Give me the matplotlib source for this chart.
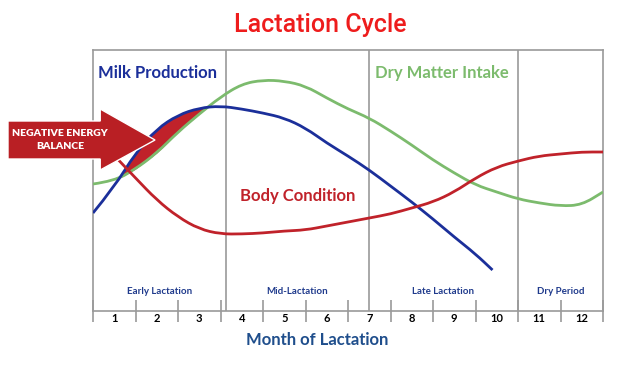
import matplotlib.pyplot as plt
from matplotlib.patches import Polygon, PathPatch
from matplotlib.path import Path
import numpy as np

# curve values (arbitrary units) read at half-month steps
milk_months = [0, 0.5, 1, 1.5, 2, 2.5, 3, 3.5, 4, 4.5, 5, 5.5, 6, 6.5,
               7, 7.5, 8, 8.5, 9, 9.4]
milk = [98, 124, 158, 182, 196, 203, 205, 202, 198, 193, 183, 168, 155, 141,
        125, 109, 92, 74, 57, 41]

dmi_months = [0, 0.5, 1, 1.5, 2, 2.5, 3, 3.5, 4, 4.5, 5, 5.5, 6, 6.5,
              7, 7.5, 8, 8.5, 9, 9.5, 10, 10.5, 11, 11.5, 12]
dmi = [127, 130, 142, 158, 179, 197, 214, 227, 231, 230, 225, 213, 202, 193,
       180, 166, 151, 138, 126, 119, 112, 108, 105, 106, 119]

body_months = [0.6, 1, 1.5, 2, 2.5, 3, 3.5, 4, 4.5, 5, 5.5, 6, 6.5,
               7, 7.5, 8, 8.5, 9, 9.5, 10, 10.5, 11, 11.5, 12]
body = [151, 133, 111, 94, 82, 77, 77, 78, 80, 81, 85, 89, 93,
        97, 103, 109, 119, 133, 144, 150, 155, 157, 159, 159]

month_labels = [str(m) for m in range(1, 13)]
stage_names = ["Early Lactation", "Mid-Lactation", "Late Lactation", "Dry Period"]
stage_edges = [0, 3.13, 6.49, 10, 12]

BLUE = "#1b2f9a"
GREEN = "#7cbb6d"
RED = "#c0222a"
GRAY = "#9a9a9a"
NAVY = "#1f3a8c"


def smooth_line(ax, xs, ys, color, lw=2.0, z=3):
    # quadratic bezier through the midpoints, read points as control points
    pts = list(zip(xs, ys))
    verts = [pts[0]]
    codes = [Path.MOVETO]
    for i in range(1, len(pts) - 1):
        mid = ((pts[i][0] + pts[i + 1][0]) / 2, (pts[i][1] + pts[i + 1][1]) / 2)
        verts += [pts[i], mid]
        codes += [Path.CURVE3, Path.CURVE3]
    verts.append(pts[-1])
    codes.append(Path.LINETO)
    patch = PathPatch(Path(verts, codes), facecolor="none", edgecolor=color,
                      lw=lw, zorder=z, capstyle="butt")
    ax.add_patch(patch)


fig = plt.figure(figsize=(6.4, 3.88), dpi=100)
fig.patch.set_facecolor("white")
ax = fig.add_axes([93 / 640, 77 / 388, 510 / 640, 261 / 388])
ax.set_xlim(0, 12)
ax.set_ylim(0, 261)

# negative energy balance area
n = 7
mx = np.array(milk_months[:n])
mv = np.array(milk[:n])
dv = np.array(dmi[:n])
ax.fill_between(mx, mv, dv, where=mv > dv, interpolate=True,
                color=RED, lw=0, zorder=2)

smooth_line(ax, dmi_months, dmi, GREEN, z=3)
smooth_line(ax, milk_months, milk, BLUE, z=4)
smooth_line(ax, body_months, body, RED, z=4)

# stage dividers and labels
for e in stage_edges[1:-1]:
    ax.axvline(e, color=GRAY, lw=1.2, zorder=1)
for i, name in enumerate(stage_names):
    xc = (stage_edges[i] + stage_edges[i + 1]) / 2
    ax.text(xc, 19, name, ha="center", va="center", fontsize=7,
            fontweight="bold", color=NAVY, family="Lato")

# month ticks
ax.set_xticks(range(0, 13))
ax.set_xticklabels([])
ax.tick_params(axis="x", which="major", direction="inout", length=16,
               width=1.2, color=GRAY)
ax.set_xticks(np.arange(0.5, 12, 1), minor=True)
ax.set_xticklabels(month_labels, minor=True, fontsize=8, fontweight="bold",
                   family="Lato")
ax.tick_params(axis="x", which="minor", length=0, pad=1.5)
ax.set_yticks([])
for s in ax.spines.values():
    s.set_color(GRAY)
    s.set_linewidth(1.2)

# curve labels
ax.text(0.12, 238, "Milk Production", color=BLUE, fontsize=12,
        fontweight="bold", family="Lato", va="center")
ax.text(6.64, 238, "Dry Matter Intake", color=GREEN, fontsize=12,
        fontweight="bold", family="Lato", va="center")
ax.text(3.46, 115, "Body Condition", color=RED, fontsize=12,
        fontweight="bold", family="Lato", va="center")

# arrow
arrow = Polygon([(-2.0, 190), (0.17, 190), (0.17, 202), (1.46, 171),
                 (0.17, 141), (0.17, 152), (-2.0, 152)],
                closed=True, facecolor="#b91f24", edgecolor="white", lw=1,
                zorder=6, clip_on=False)
ax.add_patch(arrow)
ax.text(-0.78, 171, "NEGATIVE ENERGY\nBALANCE", color="white", fontsize=7.5,
        fontweight="heavy", ha="center", va="center", linespacing=1.5,
        family="Lato", zorder=7, clip_on=False)

fig.text(320 / 640, 1 - 25 / 388, "Lactation Cycle", color="#ee1c1c",
         fontsize=18, fontweight="medium", family="Roboto",
         ha="center", va="center")
fig.text(317 / 640, 1 - 340 / 388, "Month of Lactation", color="#1f4e8c",
         fontsize=12, fontweight="bold", family="Lato",
         ha="center", va="center")

fig.savefig("out.png", dpi=100)
